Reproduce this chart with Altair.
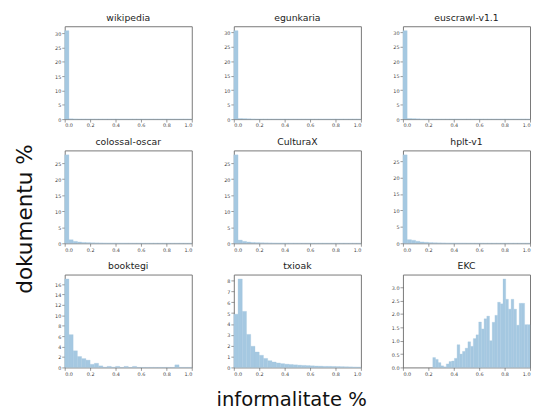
import altair as alt
import pandas as pd
import numpy as np

# ---------------- data (density per bin) ----------------
NAMES = ["wikipedia", "egunkaria", "euscrawl-v1.1",
         "colossal-oscar", "CulturaX", "hplt-v1",
         "booktegi", "txioak", "EKC"]

wikipedia = [30.9, 0.1, 0.05, 0, 0, 0, 0, 0, 0, 0, 0, 0, 0, 0, 0,
             0, 0, 0, 0, 0, 0, 0, 0, 0, 0, 0, 0, 0, 0, 0]
egunkaria = [30.5, 0.2, 0.15, 0.1, 0.05, 0, 0, 0, 0, 0, 0, 0, 0, 0, 0,
             0, 0, 0, 0, 0, 0, 0, 0, 0, 0, 0, 0, 0, 0, 0]
euscrawl = [30.5, 0.2, 0.15, 0.1, 0.05, 0.02, 0, 0, 0, 0, 0, 0, 0, 0, 0,
            0, 0, 0, 0, 0, 0, 0, 0, 0, 0, 0, 0, 0, 0, 0]
colossal_oscar = [27.6, 1.1, 0.6, 0.4, 0.25, 0.2, 0.15, 0.12, 0.1, 0.08,
                  0.07, 0.06, 0.05, 0.05, 0.04, 0.04, 0.03, 0.03, 0.02, 0.02,
                  0.02, 0.02, 0.01, 0.01, 0.01, 0.01, 0.01, 0.01, 0.01, 0.01]
culturax = [27.6, 1.0, 0.6, 0.4, 0.25, 0.2, 0.15, 0.12, 0.1, 0.08,
            0.07, 0.06, 0.05, 0.05, 0.04, 0.04, 0.03, 0.03, 0.02, 0.02,
            0.02, 0.02, 0.01, 0.01, 0.01, 0.01, 0.01, 0.01, 0.01, 0.01]
hplt = [26.9, 1.1, 0.9, 0.6, 0.4, 0.3, 0.2, 0.15, 0.12, 0.1,
        0.08, 0.07, 0.06, 0.05, 0.05, 0.04, 0.04, 0.03, 0.03, 0.02,
        0.02, 0.02, 0.02, 0.01, 0.01, 0.01, 0.01, 0.01, 0.01, 0.01]
booktegi = [17.0, 6.3, 3.2, 2.1, 1.7, 1.4, 0.6, 0.8, 0.3, 0.05,
            0.2, 0.05, 0.2, 0.0, 0.2, 0.0, 0.2, 0.0, 0.0, 0.0,
            0.0, 0.0, 0.0, 0.0, 0.0, 0.0, 0.5, 0.0, 0.0, 0.0]
txioak = [4.9, 8.14, 5.16, 3.04, 1.95, 1.42, 1.12, 0.83, 0.62, 0.5,
          0.41, 0.35, 0.3, 0.27, 0.24, 0.21, 0.19, 0.17, 0.15, 0.13,
          0.12, 0.1, 0.1, 0.09, 0.08, 0.07, 0.06, 0.05, 0.04, 0.03]
ekc = [0.37, 0.30, 0.18, 0.06, 0.02, 0.13, 0.22, 0.24, 0.34, 0.85,
       0.50, 0.60, 0.72, 0.96, 0.79, 1.08, 1.22, 1.70, 1.44, 1.82,
       1.92, 1.00, 1.69, 1.95, 2.44, 2.38, 3.31, 2.55, 2.18, 2.55,
       2.18, 1.58, 2.40, 2.40, 1.60, 1.60]

# bin edges: 30 bins on [0, 1] for most corpora, 36 bins on [0.235, 1] for EKC
EDGES_30 = list(np.linspace(0.0, 1.0, 31))
EDGES_EKC = list(np.linspace(0.235, 1.0, 37))

X_TICKS = [0.0, 0.2, 0.4, 0.6, 0.8, 1.0]
Y_TICKS = {
    "wikipedia": [0, 5, 10, 15, 20, 25, 30],
    "egunkaria": [0, 5, 10, 15, 20, 25, 30],
    "euscrawl-v1.1": [0, 5, 10, 15, 20, 25, 30],
    "colossal-oscar": [0, 5, 10, 15, 20, 25],
    "CulturaX": [0, 5, 10, 15, 20, 25],
    "hplt-v1": [0, 5, 10, 15, 20, 25],
    "booktegi": [0, 2, 4, 6, 8, 10, 12, 14, 16],
    "txioak": [0, 1, 2, 3, 4, 5, 6, 7, 8],
    "EKC": [0.0, 0.5, 1.0, 1.5, 2.0, 2.5, 3.0],
}
SERIES = {
    "wikipedia": (wikipedia, EDGES_30), "egunkaria": (egunkaria, EDGES_30),
    "euscrawl-v1.1": (euscrawl, EDGES_30), "colossal-oscar": (colossal_oscar, EDGES_30),
    "CulturaX": (culturax, EDGES_30), "hplt-v1": (hplt, EDGES_30),
    "booktegi": (booktegi, EDGES_30), "txioak": (txioak, EDGES_30),
    "EKC": (ekc, EDGES_EKC),
}

BAR_COLOR = "#a5c8e1"
FONT = "DejaVu Sans"
W, H = 130, 95


def panel(name):
    vals, edges = SERIES[name]
    df = pd.DataFrame({"lo": edges[:-1], "hi": edges[1:], "dens": vals,
                       "base": [0.0] * len(vals)})
    ymax = max(vals) * 1.05
    yfmt = ".1f" if name == "EKC" else "d"
    return alt.Chart(df, title=alt.Title(name)).mark_rect(
        color=BAR_COLOR, stroke=BAR_COLOR, strokeWidth=0.3
    ).encode(
        x=alt.X("lo:Q", scale=alt.Scale(domain=[0, 1], nice=False, zero=False),
                axis=alt.Axis(values=X_TICKS, format=".1f", title=None, labelFlush=True)),
        x2="hi:Q",
        y=alt.Y("dens:Q", scale=alt.Scale(domain=[0, ymax], nice=False),
                axis=alt.Axis(values=Y_TICKS[name], format=yfmt, title=None)),
        y2="base:Q",
    ).properties(width=W, height=H)


rows = [alt.hconcat(*[panel(n) for n in NAMES[i:i + 3]], spacing=29) for i in (0, 3, 6)]
grid = alt.vconcat(*rows, spacing=8).properties(
    title=alt.Title("informalitate %", orient="bottom", anchor="middle",
                    fontSize=20, font=FONT, fontWeight="normal", color="#111", offset=14)
)
chart = alt.hconcat(grid).properties(
    title=alt.Title("dokumentu %", orient="left", anchor="middle",
                    fontSize=22, font=FONT, fontWeight="normal", color="#111", offset=16,
                    dx=-8),
    padding={"left": 6, "top": 0, "right": 0, "bottom": 0},
).configure_view(
    stroke="#777", strokeWidth=1
).configure_axis(
    grid=False, domain=False, tickSize=3, tickColor="#555", tickWidth=0.6,
    labelFontSize=5, labelColor="#444", labelFont=FONT, labelPadding=1,
).configure_axisX(
    minExtent=9, maxExtent=9
).configure_axisY(
    minExtent=12, maxExtent=12
).configure_title(
    fontSize=9.5, font=FONT, fontWeight="normal", color="#222", offset=0
).configure_concat(spacing=0)

chart.save("out.html", embed_options={"renderer": "svg", "actions": False})
